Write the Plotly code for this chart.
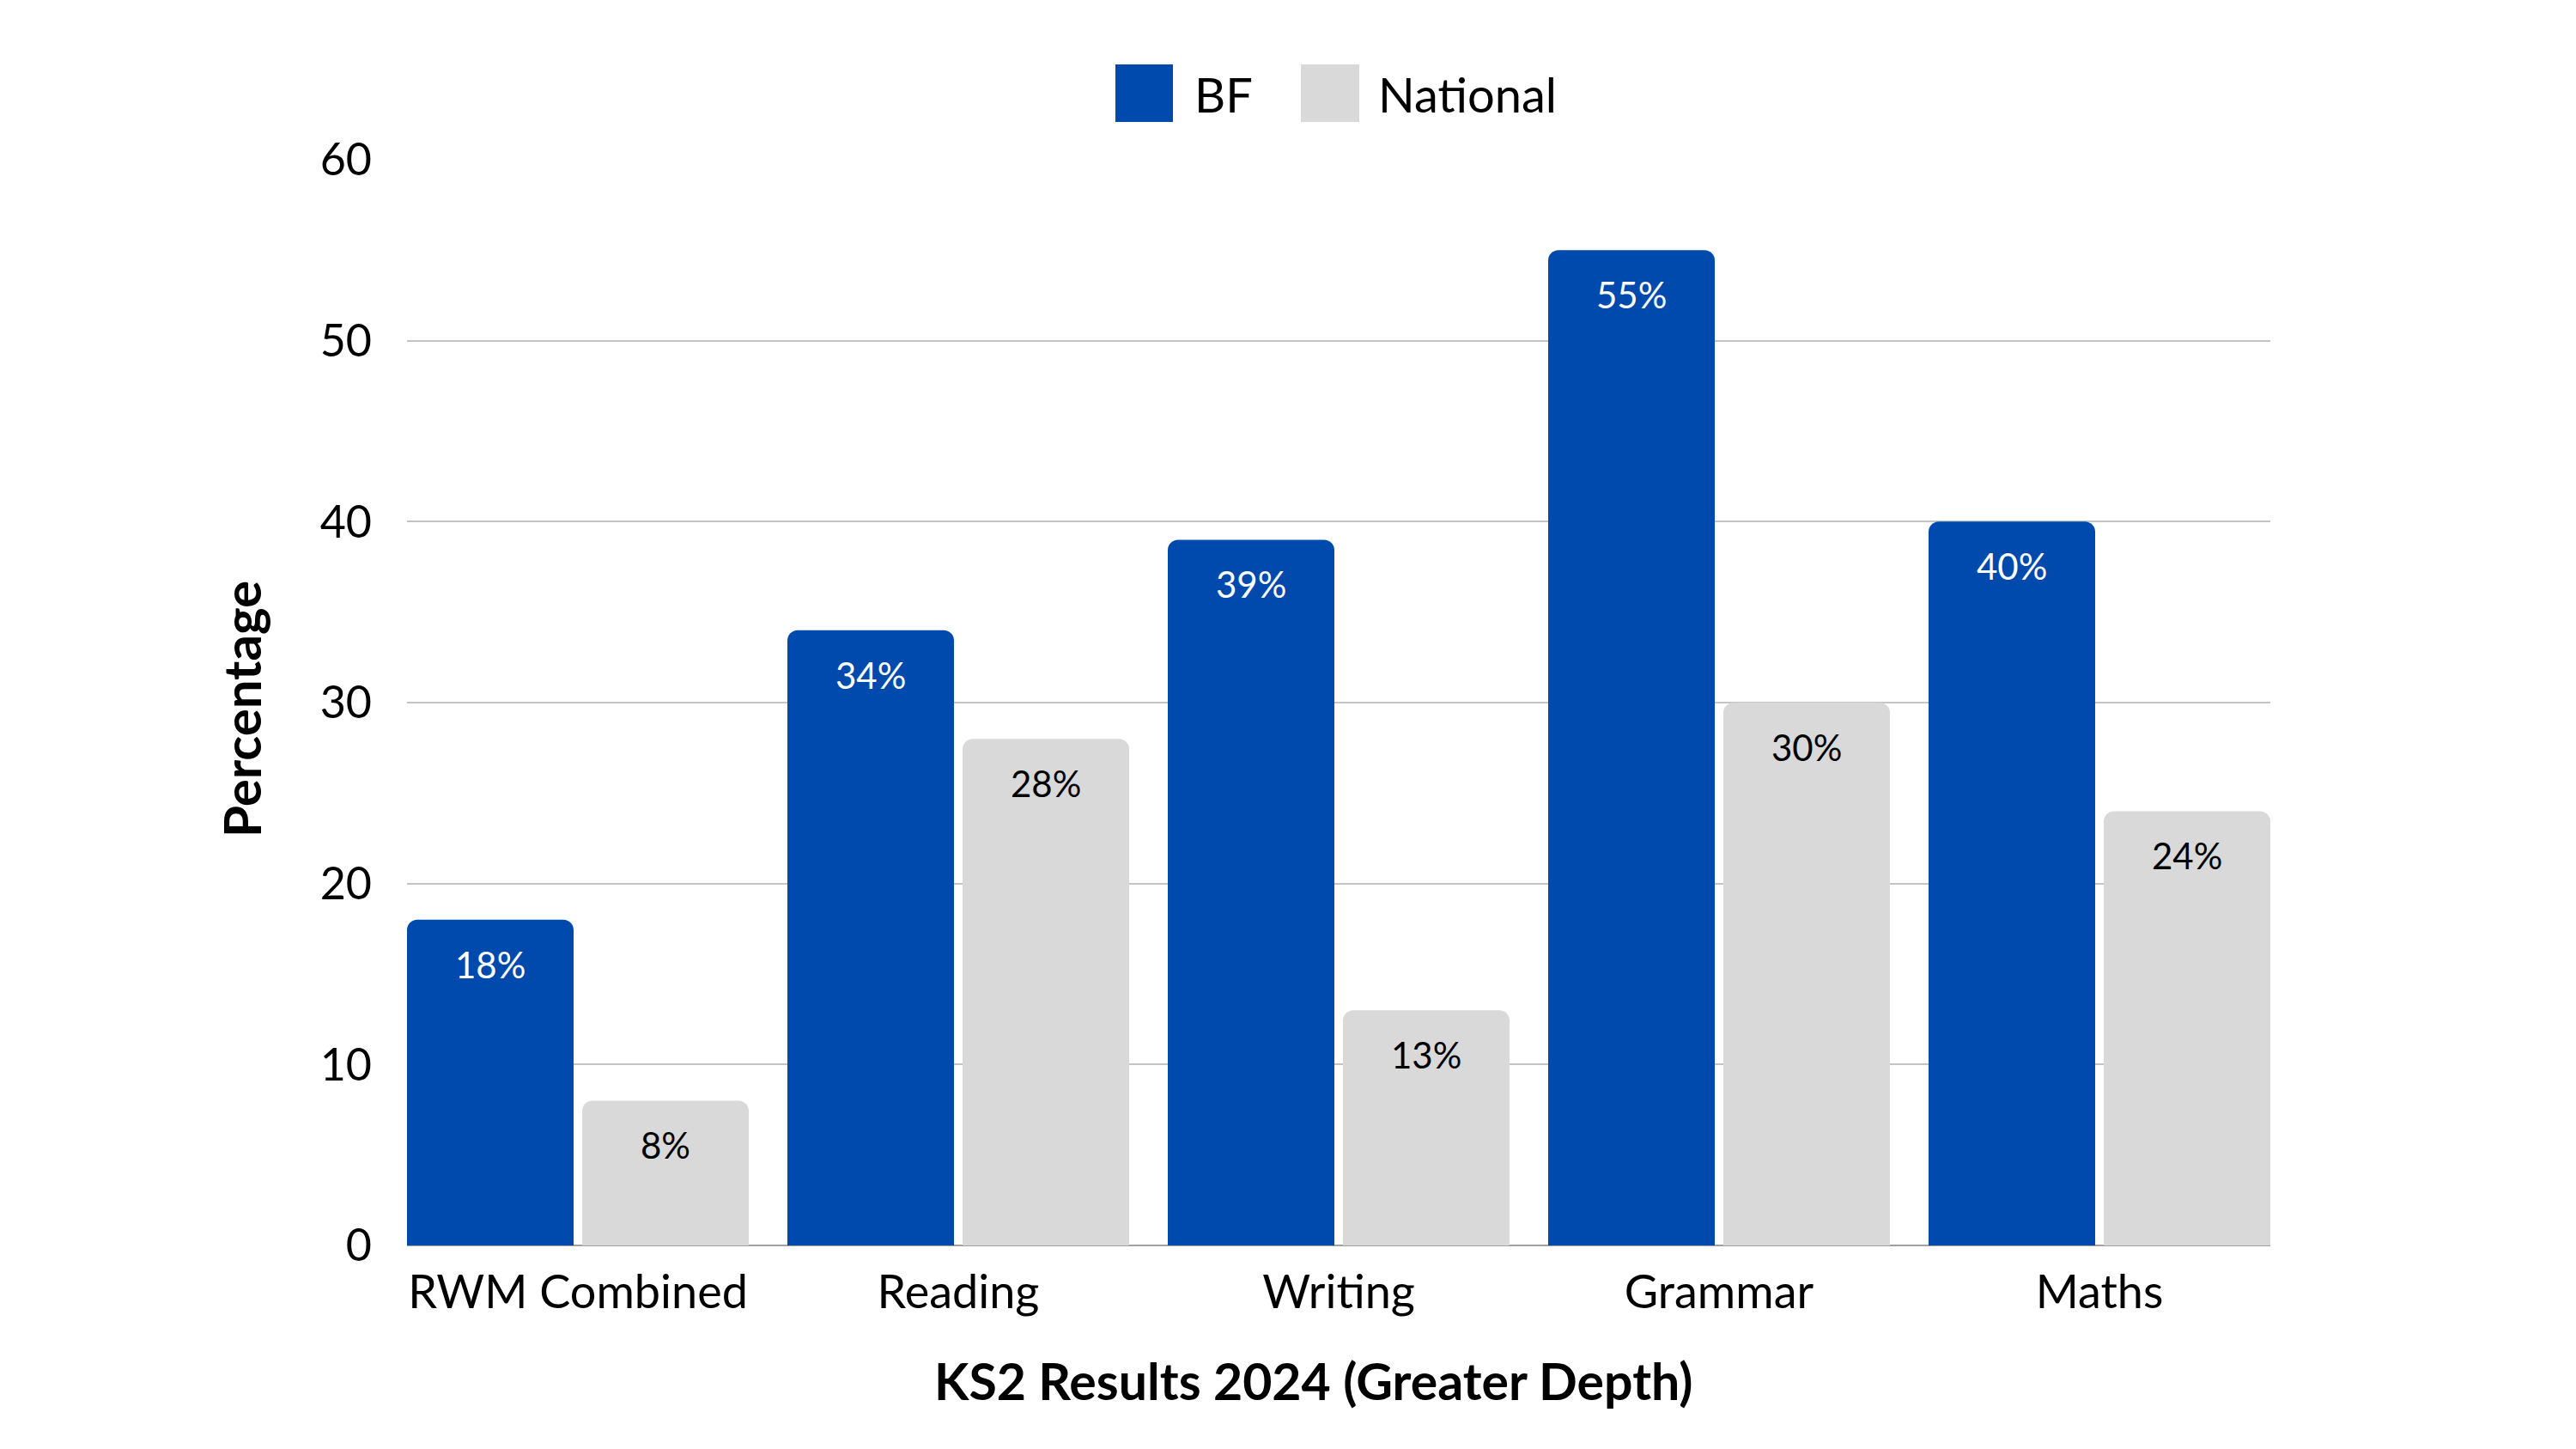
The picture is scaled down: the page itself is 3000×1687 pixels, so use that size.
import plotly.graph_objects as go

categories = ["RWM Combined", "Reading", "Writing", "Grammar", "Maths"]
bf_values = [18, 34, 39, 55, 40]
national_values = [8, 28, 13, 30, 24]
y_ticks = [0, 10, 20, 30, 40, 50, 60]
series_names = ["BF", "National"]

BLUE = "#004AAD"
GREY = "#D9D9D9"
FONT = "Lato"

OFF = 8  # default page body margin
W, H = 3000 - 2 * OFF, 1687 - 2 * OFF
# plot area in screen pixels: x 474..2644, y 186..1450
PL, PR, PT, PB = 474, 2644, 186, 1450
ML = PL - OFF
MR = W - (PR - OFF)
MT = PT - OFF
MB = H - (PB - OFF)
PW = PR - PL
PH = PB - PT

fig = go.Figure()
fig.add_trace(go.Bar(name=series_names[0], x=categories, y=bf_values,
                     marker=dict(color=BLUE, cornerradius=12, line=dict(width=0)),
                     showlegend=False, hoverinfo="skip"))
fig.add_trace(go.Bar(name=series_names[1], x=categories, y=national_values,
                     marker=dict(color=GREY, cornerradius=12, line=dict(width=0)),
                     showlegend=False, hoverinfo="skip"))

annotations = []
for c, v in zip(categories, bf_values):
    annotations.append(dict(x=c, y=v, xref="x", yref="y", text=f"{v}%", showarrow=False,
                            xshift=-102, yshift=-52, yanchor="middle",
                            font=dict(family=FONT, size=42, color="white")))
for c, v in zip(categories, national_values):
    annotations.append(dict(x=c, y=v, xref="x", yref="y", text=f"{v}%", showarrow=False,
                            xshift=102, yshift=-52, yanchor="middle",
                            font=dict(family=FONT, size=42, color="black")))

def px2x(px):
    return (px - PL) / PW

def px2y(py):
    return (PB - py) / PH

# custom legend
shapes = []
for (x0, x1, col) in [(1299, 1366, BLUE), (1515, 1583, GREY)]:
    shapes.append(dict(type="rect", xref="paper", yref="paper",
                       x0=px2x(x0), x1=px2x(x1), y0=px2y(142), y1=px2y(75),
                       fillcolor=col, line=dict(width=0), layer="above"))
for name, xl in zip(series_names, [1389, 1603]):
    annotations.append(dict(x=px2x(xl), y=px2y(109), xref="paper", yref="paper",
                            text=name, showarrow=False, xanchor="left", yanchor="middle",
                            font=dict(family=FONT, size=56, color="black")))

# axis titles
annotations.append(dict(x=px2x(1530), y=px2y(1607), xref="paper", yref="paper",
                        text="<b>KS2 Results 2024 (Greater Depth)</b>", showarrow=False,
                        xanchor="center", yanchor="middle",
                        font=dict(family=FONT, size=59, color="black")))
annotations.append(dict(x=px2x(281), y=px2y(826), xref="paper", yref="paper",
                        text="<b>Percentage</b>", showarrow=False, textangle=-90,
                        xanchor="center", yanchor="middle",
                        font=dict(family=FONT, size=60, color="black")))

fig.update_layout(
    width=W, height=H,
    margin=dict(l=ML, r=MR, t=MT, b=MB, autoexpand=False),
    paper_bgcolor="white", plot_bgcolor="white",
    barmode="group", bargap=35 / 443, bargroupgap=0.049,
    font=dict(family=FONT, color="black"),
    annotations=annotations, shapes=shapes,
    xaxis=dict(range=[-0.4492, 4.4492], showgrid=False, showline=False, ticks="",
               tickfont=dict(family=FONT, size=54, color="black"),
               ticklabelstandoff=18, fixedrange=True),
    yaxis=dict(range=[0, 60], tickvals=y_ticks, showgrid=True, gridcolor="#C4C4C4",
               gridwidth=2, zeroline=True, zerolinecolor="#A0A0A0", zerolinewidth=2,
               showline=False, ticks="", tickfont=dict(family=FONT, size=52, color="black"),
               ticklabelstandoff=40, fixedrange=True),
)

fig.write_html("out.html")
